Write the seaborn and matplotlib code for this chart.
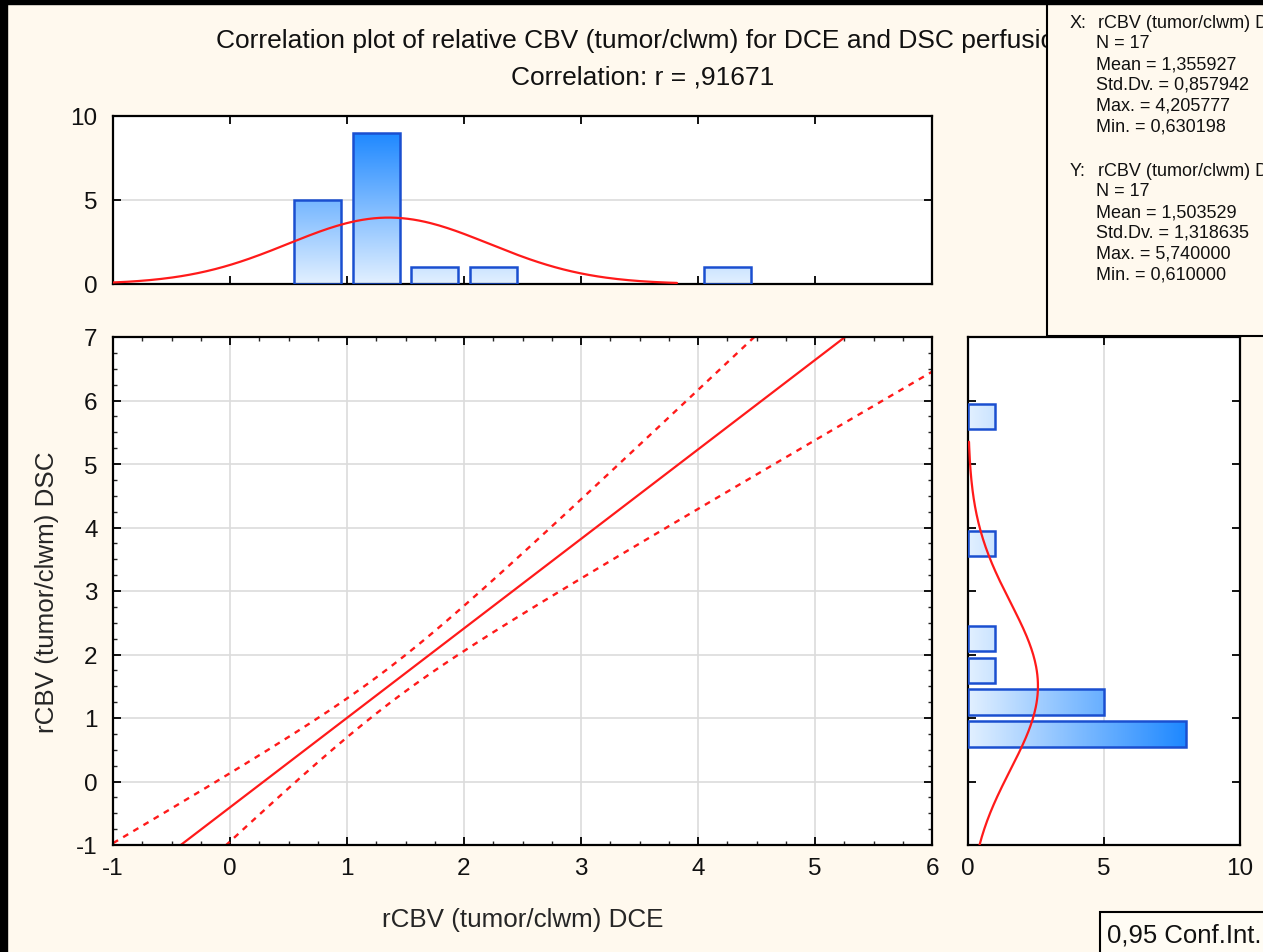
import numpy as np
import pandas as pd
import seaborn as sns
import matplotlib.pyplot as plt
from matplotlib.colors import LinearSegmentedColormap
from matplotlib.patches import Rectangle
from matplotlib.ticker import MultipleLocator

# histogram of X (DCE), bins of width 0.5
x_bin_centers = [0.75, 1.25, 1.75, 2.25, 4.25]
x_bin_counts = [5, 9, 1, 1, 1]

# histogram of Y (DSC), bins of width 0.5
y_bin_centers = [0.75, 1.25, 1.75, 2.25, 3.75, 5.75]
y_bin_counts = [8, 5, 1, 1, 1, 1]

# descriptive statistics shown in the box
n_obs = 17
x_stats = {"Mean": 1.355927, "Std.Dv.": 0.857942, "Max.": 4.205777, "Min.": 0.630198}
y_stats = {"Mean": 1.503529, "Std.Dv.": 1.318635, "Max.": 5.740000, "Min.": 0.610000}
r_val = 0.91671
t_crit = 2.131   # t(0.975, n-2)
bin_w = 0.5

# ranges over which the fitted normal curves are drawn
x_fit_range = [-1.0, 3.82]
y_fit_range = [-1.0, 5.35]

cream = "#FFF9EE"
red = "#FF1A1A"
edge_blue = "#1A4FD0"
grad_cmap = LinearSegmentedColormap.from_list("bars", ["#E2F0FF", "#1E88FF"])

sns.set_style("ticks")
plt.rcParams["font.family"] = ["Liberation Sans", "DejaVu Sans"]
plt.rcParams["text.color"] = "#111111"
plt.rcParams["axes.unicode_minus"] = False

W, H = 1263, 953
fig = plt.figure(figsize=(W / 100, H / 100), dpi=100, facecolor=cream)

def px_box(l, t, r, b):
    return [l / W, 1 - b / H, (r - l) / W, (b - t) / H]

ax_main = fig.add_axes(px_box(113, 338, 932, 846))
ax_top = fig.add_axes(px_box(113, 117, 932, 285))
ax_right = fig.add_axes(px_box(968, 338, 1240, 846))


def gradient_bars(ax, vmax, horizontal=False):
    for p in list(ax.patches):
        x0, y0, w, h = p.get_x(), p.get_y(), p.get_width(), p.get_height()
        if horizontal:
            grad = np.linspace(0, w, 200).reshape(1, -1)
        else:
            grad = np.linspace(0, h, 200).reshape(-1, 1)
        im = ax.imshow(grad, origin="lower", extent=(x0, x0 + w, y0, y0 + h),
                       cmap=grad_cmap, vmin=0, vmax=vmax, aspect="auto",
                       interpolation="bilinear", zorder=2)
        im.set_clip_path(p)
        p.set_facecolor("none")
        p.set_zorder(3)


# regression line and 95% confidence band, from the displayed statistics
slope = r_val * y_stats["Std.Dv."] / x_stats["Std.Dv."]
intercept = y_stats["Mean"] - slope * x_stats["Mean"]
s_err = y_stats["Std.Dv."] * np.sqrt((1 - r_val ** 2) * (n_obs - 1) / (n_obs - 2))
sxx = (n_obs - 1) * x_stats["Std.Dv."] ** 2
xs = np.linspace(-1, 6, 300)
fit = intercept + slope * xs
half = t_crit * s_err * np.sqrt(1 / n_obs + (xs - x_stats["Mean"]) ** 2 / sxx)
reg = pd.DataFrame({"x": xs, "fit": fit, "lo": fit - half, "hi": fit + half})

sns.lineplot(data=reg, x="x", y="fit", ax=ax_main, color=red, lw=1.6)
sns.lineplot(data=reg, x="x", y="hi", ax=ax_main, color=red, lw=1.7,
             linestyle=(0, (2.5, 2.5)))
sns.lineplot(data=reg, x="x", y="lo", ax=ax_main, color=red, lw=1.7,
             linestyle=(0, (2.5, 2.5)))
ax_main.set_xlim(-1, 6)
ax_main.set_ylim(-1, 7)
ax_main.xaxis.set_major_locator(MultipleLocator(1))
ax_main.yaxis.set_major_locator(MultipleLocator(1))
ax_main.xaxis.set_minor_locator(MultipleLocator(0.25))
ax_main.yaxis.set_minor_locator(MultipleLocator(0.25))
ax_main.grid(True, which="major", color="#DCDCDC", lw=1.2)

# top histogram (X)
sns.barplot(x=x_bin_centers, y=x_bin_counts, native_scale=True, width=0.8, ax=ax_top,
            color="#88BBFF", edgecolor=edge_blue, linewidth=1.8, errorbar=None)
gradient_bars(ax_top, max(x_bin_counts))
xf = np.linspace(x_fit_range[0], x_fit_range[1], 200)
pdf_x = n_obs * bin_w * np.exp(-0.5 * ((xf - x_stats["Mean"]) / x_stats["Std.Dv."]) ** 2) \
    / (x_stats["Std.Dv."] * np.sqrt(2 * np.pi))
sns.lineplot(x=xf, y=pdf_x, ax=ax_top, color=red, lw=1.6, zorder=4)
ax_top.set_xlim(-1, 6)
ax_top.set_ylim(0, 10)
ax_top.xaxis.set_major_locator(MultipleLocator(1))
ax_top.yaxis.set_major_locator(MultipleLocator(5))
ax_top.yaxis.grid(True, color="#DCDCDC", lw=1.2)
ax_top.set_xticklabels([])

# right histogram (Y)
sns.barplot(x=y_bin_counts, y=y_bin_centers, orient="h", native_scale=True, width=0.8,
            ax=ax_right, color="#88BBFF", edgecolor=edge_blue, linewidth=1.8, errorbar=None)
gradient_bars(ax_right, max(y_bin_counts), horizontal=True)
yf = np.linspace(y_fit_range[0], y_fit_range[1], 200)
pdf_y = n_obs * bin_w * np.exp(-0.5 * ((yf - y_stats["Mean"]) / y_stats["Std.Dv."]) ** 2) \
    / (y_stats["Std.Dv."] * np.sqrt(2 * np.pi))
ax_right.plot(pdf_y, yf, color=red, lw=1.6, zorder=4)
ax_right.set_xlim(0, 10)
ax_right.set_ylim(-1, 7)
ax_right.xaxis.set_major_locator(MultipleLocator(5))
ax_right.yaxis.set_major_locator(MultipleLocator(1))
ax_right.xaxis.grid(True, color="#DCDCDC", lw=1.2)
ax_right.set_yticklabels([])

for ax in (ax_main, ax_top, ax_right):
    ax.set_facecolor("white")
    ax.set_axisbelow(True)
    ax.set_xlabel("")
    ax.set_ylabel("")
    for s in ax.spines.values():
        s.set_visible(True)
        s.set_color("black")
        s.set_linewidth(1.6)
    ax.tick_params(which="major", direction="in", length=6, width=1.3, top=True, right=True,
                   labelsize=17.5, pad=9, colors="black", labelcolor="#111111")
    ax.tick_params(which="minor", direction="in", length=3, width=1.0, top=True, right=True)
ax_main.tick_params(axis="y", pad=11)
ax_top.tick_params(axis="y", pad=11)

ax_main.set_xlabel("rCBV (tumor/clwm) DCE", fontsize=18.7)
ax_main.set_ylabel("rCBV (tumor/clwm) DSC", fontsize=18.7)
ax_main.xaxis.set_label_coords(0.5, -0.122)
ax_main.yaxis.set_label_coords(-0.066, 0.5)

# title
fig.text(643 / W, 1 - 41 / H, "Correlation plot of relative CBV (tumor/clwm) for DCE and DSC perfusion",
         ha="center", va="center", fontsize=19)
fig.text(643 / W, 1 - 77 / H, "Correlation: r = ,91671", ha="center", va="center", fontsize=19)

# statistics box (covers the end of the title)
fig.add_artist(Rectangle((1047 / W, 1 - 337 / H), 0.3, 1, transform=fig.transFigure,
                         facecolor=cream, edgecolor="black", lw=1.5, zorder=10))


def fmt(v):
    return f"{v:.6f}".replace(".", ",")


for label, stats, y0 in (("X:", x_stats, 23), ("Y:", y_stats, 171)):
    fig.text(1070 / W, 1 - y0 / H, label, ha="left", va="center", fontsize=13, zorder=11)
    rows = ["rCBV (tumor/clwm) " + ("DCE" if label == "X:" else "DSC"), f"N = {n_obs}"]
    rows += [f"{k} = {fmt(v)}" for k, v in stats.items()]
    for i, txt in enumerate(rows):
        xx = 1098 if i == 0 else 1096
        fig.text(xx / W, 1 - (y0 + i * 20.8) / H, txt, ha="left", va="center",
                 fontsize=13, zorder=11)

# legend box, bottom right
fig.add_artist(Rectangle((1100 / W, -0.1), 0.3, 0.1 + (953 - 913) / H, transform=fig.transFigure,
                         facecolor="#FFFCF4", edgecolor="black", lw=1.5, zorder=10))
fig.text(1107 / W, 1 - 936 / H, "0,95 Conf.Int.", ha="left", va="center", fontsize=18.5, zorder=11)

# black frame on the left and top
fig.add_artist(Rectangle((0, 0), 7 / W, 1, transform=fig.transFigure, color="black", zorder=20))
fig.add_artist(Rectangle((0, 1 - 5 / H), 1, 5 / H, transform=fig.transFigure, color="black", zorder=20))

fig.savefig("out.png", dpi=100, facecolor=cream)
